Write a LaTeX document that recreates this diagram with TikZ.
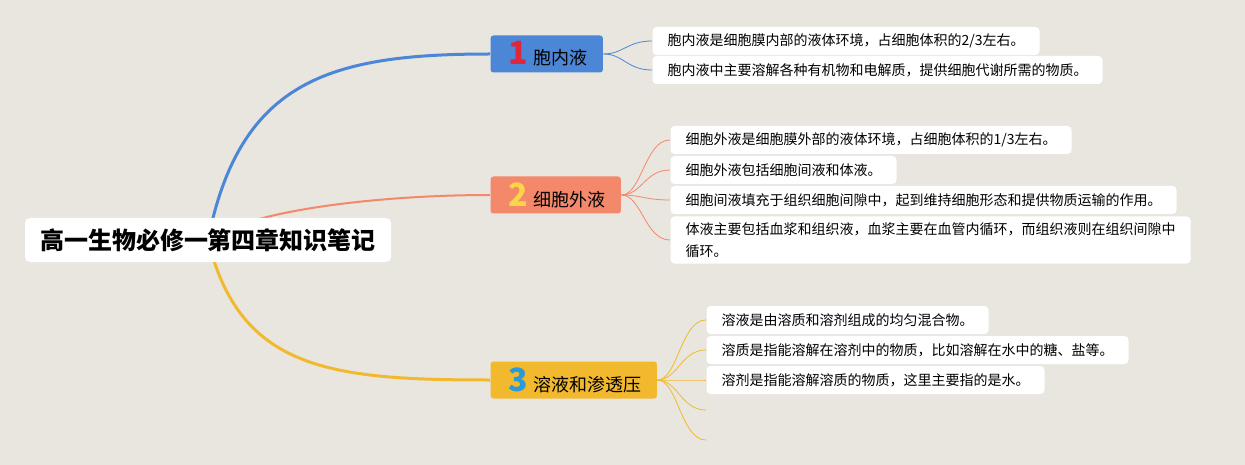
\documentclass[tikz,border=0pt]{standalone}
\usepackage{fontspec}
\setmainfont{Noto Sans CJK SC}
\usetikzlibrary{backgrounds}
\definecolor{canvas}{RGB}{232,230,223}
\definecolor{cblue}{HTML}{4C86D6}
\definecolor{corange}{HTML}{F3886A}
\definecolor{cyellow}{HTML}{F2B92E}
\definecolor{cred}{HTML}{E0263A}
\definecolor{cgold}{HTML}{FAD54A}
\definecolor{csky}{HTML}{2B9AD8}
\tikzset{
  every picture/.style={line width=1pt},
  rootbox/.style={fill=white, rounded corners=5pt, inner xsep=15pt, minimum height=44pt, font=\fontsize{24}{28}\selectfont\bfseries},
  topic/.style={fill=#1, rounded corners=3pt, anchor=west, inner xsep=15pt, minimum height=37pt, font=\fontsize{18}{22}\selectfont},
  leaf/.style={fill=white, rounded corners=4pt, anchor=west, inner xsep=15pt, inner ysep=6pt, minimum height=28pt, align=left, font=\fontsize{14}{22}\selectfont},
  limb/.style={draw=#1, line width=3pt},
  twig/.style={draw=#1, line width=0.8pt},
}
\newcommand{\topicnum}[2]{\hspace*{3pt}{\fontsize{32}{32}\selectfont\bfseries\color{#1}#2}\hspace*{6pt}}

\begin{document}
\begin{tikzpicture}[x=1pt, y=-1pt]
  \useasboundingbox (0,0) rectangle (1245,465);
  \begin{scope}[on background layer]
    \fill[canvas] (0,0) rectangle (1245,465);
  \end{scope}

  \node[rootbox] (root) at (208,240) {高一生物必修一第四章知识笔记};
  \node[topic=cblue] (b1) at (490,54) {\topicnum{cred}{1}胞内液};
  \node[topic=corange] (b2) at (490,195) {\topicnum{cgold}{2}细胞外液};
  \node[topic=cyellow] (b3) at (490,380) {\topicnum{csky}{3}溶液和渗透压};

  \begin{scope}[on background layer]
    \draw[limb=cblue] (root.center) .. controls (240,80) and (330,54) .. (b1.west);
    \draw[limb=corange, line width=2pt] (root.center) .. controls (250,210) and (380,195) .. (b2.west);
    \draw[limb=cyellow] (root.center) .. controls (240,370) and (330,380) .. (b3.west);
  \end{scope}

  \foreach \n/\y/\txt in {11/41/{胞内液是细胞膜内部的液体环境，占细胞体积的2/3左右。},
                          12/70/{胞内液中主要溶解各种有机物和电解质，提供细胞代谢所需的物质。}} {
    \node[leaf] (l\n) at (652,\y) {\txt};
    \draw[twig=cblue] (b1.east) .. controls +(20,0) and +(-25,0) .. (l\n.west);
  }

  \foreach \n/\y/\txt in {21/140/{细胞外液是细胞膜外部的液体环境，占细胞体积的1/3左右。},
                          22/170/{细胞外液包括细胞间液和体液。},
                          23/200/{细胞间液填充于组织细胞间隙中，起到维持细胞形态和提供物质运输的作用。},
                          24/240/{体液主要包括血浆和组织液，血浆主要在血管内循环，而组织液则在组织间隙中\\循环。}} {
    \node[leaf] (l\n) at (670,\y) {\txt};
    \draw[twig=corange] (b2.east) .. controls +(20,0) and +(-25,0) .. (l\n.west);
  }

  \foreach \n/\y/\txt in {31/320/{溶液是由溶质和溶剂组成的均匀混合物。},
                          32/350/{溶质是指能溶解在溶剂中的物质，比如溶解在水中的糖、盐等。},
                          33/380/{溶剂是指能溶解溶质的物质，这里主要指的是水。}} {
    \node[leaf] (l\n) at (706,\y) {\txt};
    \draw[twig=cyellow] (b3.east) .. controls +(20,0) and +(-25,0) .. (l\n.west);
  }
  \coordinate (e34) at (706,410);
  \coordinate (e35) at (706,440);
  \foreach \e in {e34, e35}
    \draw[twig=cyellow] (b3.east) .. controls +(20,0) and +(-25,0) .. (\e);
\end{tikzpicture}
\end{document}
